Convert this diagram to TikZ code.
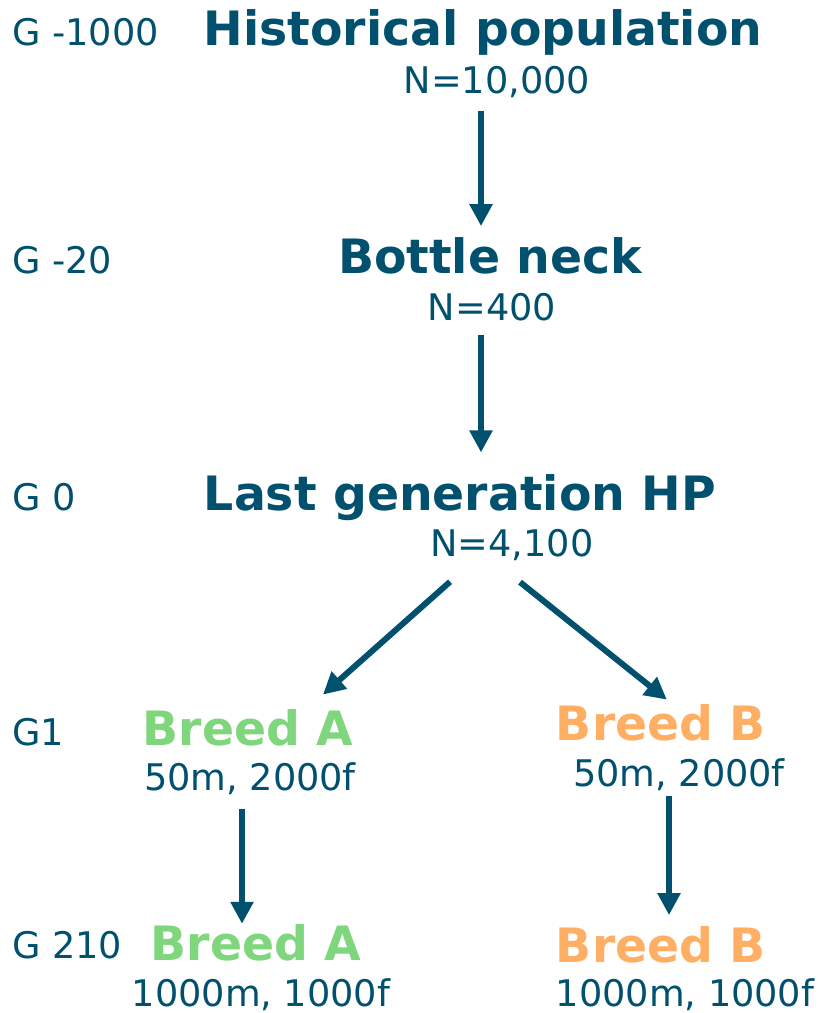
\documentclass[tikz,border=0pt]{standalone}
\usepackage{fontspec}
\setmainfont{DejaVu Sans}
\usetikzlibrary{arrows.meta}
\definecolor{darkblue}{RGB}{0,80,110}
\definecolor{breedgreen}{RGB}{128,214,124}
\definecolor{breedorange}{RGB}{255,175,100}

\begin{document}
\begin{tikzpicture}[x=0.75pt,y=-0.75pt]
    \tikzstyle{gen} = [anchor=base west,text=darkblue,inner sep=0pt,font=\fontsize{27.5}{30}\selectfont]
    \tikzstyle{count} = [anchor=base,text=darkblue,inner sep=0pt,font=\fontsize{27.5}{30}\selectfont]
    \tikzstyle{title} = [anchor=base,text=darkblue,inner sep=0pt,font=\bfseries\fontsize{35.5}{40}\selectfont]
    \tikzstyle{flow} = [draw=darkblue,line width=4.5pt,-{Triangle[length=16.5pt,width=16.5pt]}]
    \useasboundingbox (0,0) rectangle (826,1013);
    % generations
    \node[gen] (g1) at (12,46) {G -1000};
    \node[gen] (g2) at (12,273) {G -20};
    \node[gen] (g3) at (12,510) {G 0};
    \node[gen] (g4) at (12,745) {G1};
    \node[gen] (g5) at (12,958) {G 210};
    % populations
    \node[title] (hist) at (483,46) {Historical population};
    \node[count] (histN) at (497,94) {N=10,000};
    \node[title] (neck) at (490,273) {Bottle neck};
    \node[count] (neckN) at (492,320) {N=400};
    \node[title] (last) at (460,510) {Last generation HP};
    \node[count] (lastN) at (512,556) {N=4,100};
    \node[title,text=breedgreen] (breedA) at (248,745) {Breed A};
    \node[count] (breedAN) at (250,790) {50m, 2000f};
    \node[title,text=breedorange] (breedB) at (661,740) {Breed B};
    \node[count] (breedBN) at (679,786) {50m, 2000f};
    \node[title,text=breedgreen] (breedA2) at (256,960) {Breed A};
    \node[count] (breedA2N) at (261,1006) {1000m, 1000f};
    \node[title,text=breedorange] (breedB2) at (661,962) {Breed B};
    \node[count] (breedB2N) at (685,1006) {1000m, 1000f};
    % arrows
    \draw[flow,shorten <=9pt,shorten >=8pt] (481,0 |- histN.south) -- (481,0 |- neck.north);
    \draw[flow,shorten <=11pt,shorten >=16pt] (481,0 |- neckN.south) -- (481,0 |- last.north);
    \draw[flow,shorten <=24pt,shorten >=16pt] (474,0 |- lastN.south) -- (307,0 |- breedA.north);
    \draw[flow,shorten <=26pt,shorten >=5pt] (493,0 |- lastN.south) -- (672,0 |- breedB.north);
    \draw[flow,shorten <=11pt,shorten >=0pt] (242,0 |- breedAN.south) -- (242,0 |- breedA2.north);
    \draw[flow,shorten <=4pt,shorten >=8pt] (669,0 |- breedBN.south) -- (669,0 |- breedB2.north);
\end{tikzpicture}
\end{document}
